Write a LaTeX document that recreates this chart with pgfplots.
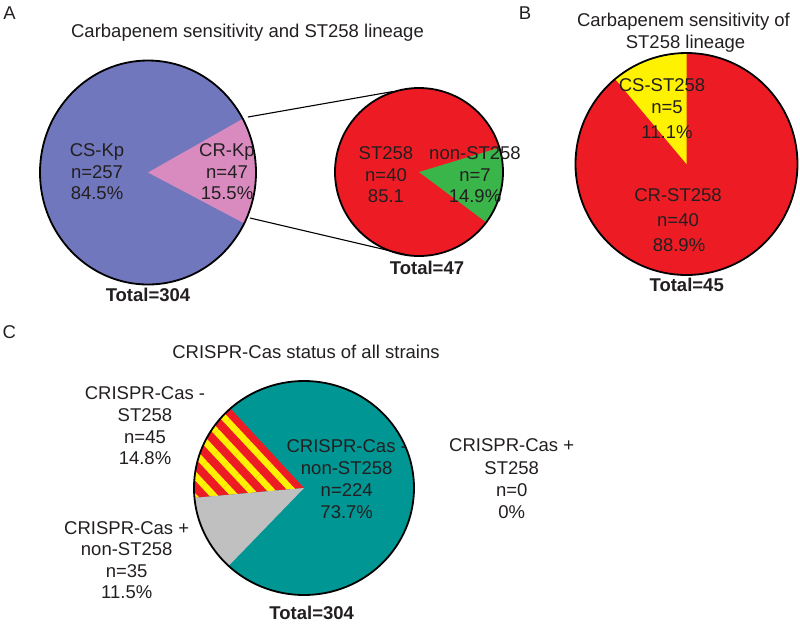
\documentclass[border=0pt]{standalone}
\usepackage{fontspec}
\setmainfont{Liberation Sans}
\usepackage{pgfplots}
\pgfplotsset{compat=1.18}
\usetikzlibrary{patterns.meta}
\definecolor{cblue}{RGB}{112,119,189}
\definecolor{cpink}{RGB}{217,139,192}
\definecolor{cred}{RGB}{237,28,36}
\definecolor{cgreen}{RGB}{57,181,74}
\definecolor{cyellow}{RGB}{255,242,0}
\definecolor{cteal}{RGB}{0,150,148}
\definecolor{cgrey}{RGB}{192,192,192}
\definecolor{ctext}{RGB}{35,31,32}
% ---- data (counts) ----
\def\nCSKp{257}\def\nCRKp{47}            % panel A, all strains
\def\nSTA{40}\def\nNonSTA{7}             % panel A, CR-Kp
\def\nCRST{40}\def\nCSST{5}              % panel B
\def\nCmST{45}\def\nCpNon{35}\def\nCmNon{224}\def\nCpST{0} % panel C
% ---- angles derived from the counts ----
\pgfmathsetmacro\aAa{-27}
\pgfmathsetmacro\aAb{\aAa+\nCRKp/(\nCSKp+\nCRKp)*360}
\pgfmathsetmacro\aSa{-36.8}
\pgfmathsetmacro\aSb{\aSa+\nNonSTA/(\nSTA+\nNonSTA)*360}
\pgfmathsetmacro\aBa{90}
\pgfmathsetmacro\aBb{\aBa+\nCSST/(\nCRST+\nCSST)*360}
\pgfmathsetmacro\aCa{132}
\pgfmathsetmacro\aCb{\aCa+\nCmST/(\nCmST+\nCpNon+\nCmNon+\nCpST)*360}
\pgfmathsetmacro\aCc{\aCb+\nCpNon/(\nCmST+\nCpNon+\nCmNon+\nCpST)*360}
\newcommand\wedgepx[7]{% cx cy rx(pt) ry(pt) a1 a2 style
  \path[#7] (axis cs:#1,#2) -- ++(#5:#3 and #4) arc[start angle=#5,end angle=#6,x radius=#3,y radius=#4] -- cycle;}
\tikzset{lbl/.style={font=\fontsize{9.25}{11}\selectfont, text=ctext, inner sep=0pt, anchor=base, yshift=-3.3pt}}
\newcommand\lbl[3]{\node[lbl] at (axis cs:#1,#2) {#3};}
\newcommand\lblb[3]{\node[lbl,font=\fontsize{9.25}{11}\selectfont\bfseries] at (axis cs:#1,#2) {#3};}
\begin{document}
\begin{tikzpicture}
\useasboundingbox (0,0) rectangle (400pt,311.5pt);
\begin{axis}[at={(0pt,311.5pt)}, anchor=origin, x=0.5pt, y=0.5pt, y dir=reverse,
  xmin=0, xmax=800, ymin=0, ymax=623, hide axis, clip=false]
% ---- Panel A big pie ----
\fill[cblue] (axis cs:148,172.5) ellipse[x radius=54pt, y radius=56pt];
\wedgepx{148}{172.5}{54pt}{56pt}{\aAa}{\aAb}{fill=cpink}
\draw[black, line width=0.9pt] (axis cs:148,172.5) ellipse[x radius=54pt, y radius=56pt];
% ---- Panel A small pie ----
\fill[cred] (axis cs:419,172) circle[radius=42pt];
\wedgepx{419}{172}{42pt}{42pt}{\aSa}{\aSb}{fill=cgreen}
\draw[black, line width=0.9pt] (axis cs:419,172) circle[radius=42pt];
\draw[black, line width=0.55pt] (axis cs:248,117) -- (axis cs:393,91.5);
\draw[black, line width=0.55pt] (axis cs:250,218) -- (axis cs:410,255.5);
% ---- Panel B ----
\fill[cred] (axis cs:686.5,164) circle[radius=55.5pt];
\wedgepx{686.5}{164}{55.5pt}{55.5pt}{\aBa}{\aBb}{fill=cyellow}
\draw[black, line width=0.9pt] (axis cs:686.5,164) circle[radius=55.5pt];
% ---- Panel C ----
\fill[cteal] (axis cs:304,488) ellipse[x radius=55pt, y radius=53.5pt];
\wedgepx{304}{488}{55pt}{53.5pt}{\aCa}{\aCb}{fill=cred}
\wedgepx{304}{488}{55pt}{53.5pt}{\aCa}{\aCb}{pattern={Lines[angle=-47,distance=7.6pt,line width=3.3pt]}, pattern color=cyellow}
\wedgepx{304}{488}{55pt}{53.5pt}{\aCb}{\aCc}{fill=cgrey}
\draw[black, line width=0.9pt] (axis cs:304,488) ellipse[x radius=55pt, y radius=53.5pt];
% ---- texts ----
\lbl{9.5}{13}{A}
\lbl{247.5}{31}{Carbapenem sensitivity and ST258 lineage}
\lbl{97}{150}{CS-Kp}\lbl{97}{171.7}{n=257}\lbl{97}{193.3}{84.5\%}
\lbl{227}{150}{CR-Kp}\lbl{227}{171.7}{n=47}\lbl{227}{193.3}{15.5\%}
\lblb{148}{295}{Total=304}
\lbl{386}{152.7}{ST258}\lbl{386}{174.7}{n=40}\lbl{386}{196.3}{85.1}
\lbl{475}{152.7}{non-ST258}\lbl{475}{174.7}{n=7}\lbl{475}{196.3}{14.9\%}
\lblb{427}{268.3}{Total=47}
\lbl{525}{13}{B}
\lbl{683.5}{20}{Carbapenem sensitivity of}\lbl{685.5}{41.7}{ST258 lineage}
\lbl{662}{85}{CS-ST258}\lbl{667}{106.7}{n=5}\lbl{667}{131.7}{11.1\%}
\lbl{678}{195}{CR-ST258}\lbl{678}{220}{n=40}\lbl{679}{245}{88.9\%}
\lblb{686.7}{285}{Total=45}
\lbl{9.3}{331.7}{C}
\lbl{306}{351.7}{CRISPR-Cas status of all strains}
\lbl{145}{393.3}{CRISPR-Cas -}\lbl{145}{415}{ST258}\lbl{145}{436.7}{n=45}\lbl{145}{458}{14.8\%}
\lbl{126.7}{527.7}{CRISPR-Cas +}\lbl{126.7}{549}{non-ST258}\lbl{126.7}{570.5}{n=35}\lbl{126.7}{592}{11.5\%}
\lbl{346.7}{445.7}{CRISPR-Cas -}\lbl{346.7}{467.5}{non-ST258}\lbl{346.7}{490}{n=224}\lbl{346.7}{511.7}{73.7\%}
\lbl{511.7}{445}{CRISPR-Cas +}\lbl{511.7}{468.3}{ST258}\lbl{511.7}{490}{n=0}\lbl{511.7}{512}{0\%}
\lblb{311.7}{613.3}{Total=304}
\end{axis}
\end{tikzpicture}
\end{document}
